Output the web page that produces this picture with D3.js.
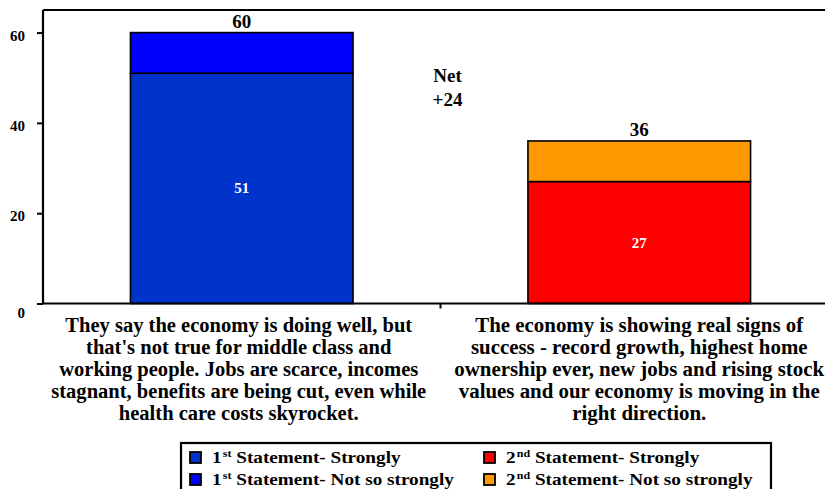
<!DOCTYPE html>
<html><head><meta charset="utf-8">
<script src="https://cdn.jsdelivr.net/npm/d3@7"></script>
<style>
html,body{margin:0;padding:0;background:#fff;}
svg{display:block;}
text{font-family:"Liberation Serif","Times New Roman","Tinos","DejaVu Serif",serif;font-weight:bold;}
</style></head>
<body><svg id="chart" width="825" height="489"></svg>
<script>
const categories = ["cat1","cat2"];
const categoryLines = [
  ["They say the economy is doing well, but","that's not true for middle class and","working people. Jobs are scarce, incomes","stagnant, benefits are being cut, even while","health care costs skyrocket."],
  ["The economy is showing real signs of","success -  record growth, highest home","ownership ever, new jobs and rising stock","values and our economy is moving in the","right direction."]
];
const strongly = [51, 27];
const notSoStrongly = [9, 9];
const totals = [60, 36];
const yTicks = [0, 20, 40, 60];
const netLabel = ["Net", "+24"];
const colorsStrong = ["#0033CC", "#FF0000"];
const colorsNotSo = ["#0000FF", "#FF9900"];
const legendItems = [
  {pre:"1", sup:"st", post:" Statement- Strongly", color:"#0033CC"},
  {pre:"2", sup:"nd", post:"  Statement- Strongly", color:"#FF0000"},
  {pre:"1", sup:"st", post:" Statement- Not so strongly", color:"#0000FF"},
  {pre:"2", sup:"nd", post:"  Statement- Not so strongly", color:"#FF9900"}
];

const svg = d3.select("#chart");
const pLeft = 43, pRight = 838, pTop = 10, pBottom = 303.5;
const x = d3.scaleBand().domain(categories).range([pLeft, pRight]).paddingInner(0.44).paddingOuter(0.22);
const y = d3.scaleLinear().domain([0, 65]).range([pBottom, pTop]);

function condense(t, anchorX, firstLineWidth){
  const node = t.select("tspan").node() || t.node();
  const w = node.getComputedTextLength();
  const sx = firstLineWidth / w;
  t.attr("transform", `translate(${anchorX},0) scale(${sx},1) translate(${-anchorX},0)`);
}

svg.append("line").attr("x1", pLeft).attr("x2", pRight).attr("y1", y(65)).attr("y2", y(65)).attr("stroke","#000").attr("stroke-width",2.2);

const g = svg.append("g");
categories.forEach((c,i)=>{
  g.append("rect").attr("x", x(c)).attr("width", x.bandwidth())
   .attr("y", y(strongly[i])).attr("height", y(0)-y(strongly[i]))
   .attr("fill", colorsStrong[i]).attr("stroke","#000").attr("stroke-width",1.6);
  g.append("rect").attr("x", x(c)).attr("width", x.bandwidth())
   .attr("y", y(totals[i])).attr("height", y(strongly[i])-y(totals[i]))
   .attr("fill", colorsNotSo[i]).attr("stroke","#000").attr("stroke-width",1.6);
  g.append("text").attr("x", x(c)+x.bandwidth()/2).attr("y", y(strongly[i]/2)+5)
   .attr("text-anchor","middle").attr("fill","#fff").attr("font-size",15).text(strongly[i]);
  g.append("text").attr("x", x(c)+x.bandwidth()/2).attr("y", y(totals[i])-5)
   .attr("text-anchor","middle").attr("fill","#000").attr("font-size",19).text(totals[i]);
});

const midX = (x(categories[0])+x.bandwidth() + x(categories[1]))/2 + 7;
svg.append("text").attr("x", midX).attr("y", 82).attr("text-anchor","middle").attr("font-size",19).text(netLabel[0]);
svg.append("text").attr("x", midX).attr("y", 106).attr("text-anchor","middle").attr("font-size",19).text(netLabel[1]);

const yAxis = svg.append("g").attr("transform", `translate(${pLeft},0)`)
  .call(d3.axisLeft(y).tickValues(yTicks).tickSize(6).tickPadding(12));
yAxis.select(".domain").attr("stroke-width",2.2).attr("d", `M0,${y(65)}V${y(0)}`);
yAxis.selectAll(".tick line").attr("stroke-width",2);
yAxis.selectAll(".tick text").attr("font-size",15).attr("font-family",null).attr("fill","#000").attr("dy","0.5em");
yAxis.selectAll(".tick").filter(d=>d===0).select("text").attr("dy","0.9em");

const xAxis = svg.append("g").attr("transform", `translate(0,${pBottom})`)
  .call(d3.axisBottom(x).tickSize(0).tickFormat(""));
xAxis.select(".domain").attr("stroke-width",2.2).attr("d", `M${pLeft},0H${pRight}`);
svg.append("line").attr("x1", (pLeft+pRight)/2).attr("x2",(pLeft+pRight)/2).attr("y1",pBottom).attr("y2",pBottom+5).attr("stroke","#000").attr("stroke-width",2);

const labelFirstWidths = [347, 328];
categories.forEach((c,i)=>{
  const cx = x(c)+x.bandwidth()/2 - (i===0?3:0);
  const t = svg.append("text").attr("text-anchor","middle").attr("font-size",20);
  categoryLines[i].forEach((ln,j)=>{
    t.append("tspan").attr("x", cx).attr("y", 332 + j*22).text(ln);
  });
  condense(t, cx, labelFirstWidths[i]);
});

svg.append("rect").attr("x",181).attr("y",443).attr("width",590).attr("height",60).attr("fill","none").attr("stroke","#000").attr("stroke-width",2.2);
const legTexts = [];
legendItems.forEach((d,i)=>{
  const col = i%2, row = Math.floor(i/2);
  const lx = col===0 ? 190 : 484, ly = 458 + row*22;
  svg.append("rect").attr("x",lx).attr("y",ly-6).attr("width",11).attr("height",11).attr("fill",d.color).attr("stroke","#000").attr("stroke-width",1.8);
  const tx = lx+22;
  const t = svg.append("text").attr("x", tx).attr("y", ly+5).attr("font-size",16);
  t.append("tspan").text(d.pre);
  t.append("tspan").attr("font-size",10).attr("dy",-6).attr("dx",1).text(d.sup);
  t.append("tspan").attr("dy",6).text(d.post);
  legTexts.push(t);
});
const sxLeg = 241 / legTexts[2].node().getComputedTextLength();
legTexts.forEach(t=>{
  const tx = +t.attr("x");
  t.attr("transform", `translate(${tx},0) scale(${sxLeg},1) translate(${-tx},0)`);
});
</script></body></html>
